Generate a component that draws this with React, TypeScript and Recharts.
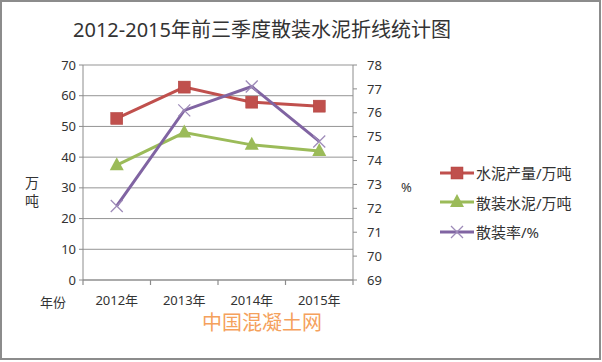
import React from 'react';
import { LineChart, Line, XAxis, YAxis, CartesianGrid, Legend } from 'recharts';

const categories = ['2012年', '2013年', '2014年', '2015年'];
const cementOutput = [52.6, 62.8, 57.9, 56.6];
const bulkCement = [37.4, 48.0, 44.0, 42.0];
const bulkRate = [72.1, 76.1, 77.1, 74.8];
const leftTicks = [0, 10, 20, 30, 40, 50, 60, 70];
const rightTicks = [69, 70, 71, 72, 73, 74, 75, 76, 77, 78];

const seriesNames = ['水泥产量/万吨', '散装水泥/万吨', '散装率/%'];
const colors = ['#C0504D', '#9BBB59', '#8064A2'];

const data = categories.map((c, i) => ({
  name: c,
  output: cementOutput[i],
  bulk: bulkCement[i],
  rate: bulkRate[i],
}));

const CHART_W = 602;
const CHART_H = 362;
const LEFT_W = 83;
const RIGHT_AXIS_W = 40;
const RIGHT_MARGIN = 209;
const PLOT_W = CHART_W - LEFT_W - RIGHT_AXIS_W - RIGHT_MARGIN;

const FONT = "'Noto Sans', 'Noto Sans CJK SC', sans-serif";
const TEXT = '#333333';

const Square = (props: any) => {
  const { cx, cy } = props;
  if (cx == null || cy == null) return null;
  return <rect key={`s${cx}`} x={cx - 6} y={cy - 6} width={12} height={12} fill={colors[0]} stroke="#b0403d" strokeWidth={0.5} />;
};
const Triangle = (props: any) => {
  const { cx, cy } = props;
  if (cx == null || cy == null) return null;
  return <polygon key={`t${cx}`} points={`${cx},${cy - 8} ${cx - 7},${cy + 5} ${cx + 7},${cy + 5}`} fill={colors[1]} />;
};
const Cross = (props: any) => {
  const { cx, cy } = props;
  if (cx == null || cy == null) return null;
  return (
    <g key={`x${cx}`}>
      <line x1={cx - 6} y1={cy - 6} x2={cx + 6} y2={cy + 6} stroke="#9d8ab8" strokeWidth={1.3} />
      <line x1={cx - 6} y1={cy + 6} x2={cx + 6} y2={cy - 6} stroke="#9d8ab8" strokeWidth={1.3} />
    </g>
  );
};
const markers = [Square, Triangle, Cross];

const XTick = (props: any) => {
  const { x, y, payload, index } = props;
  const n = categories.length;
  const off = PLOT_W / n / 2;
  return (
    <g>
      <line x1={x - off} y1={y} x2={x - off} y2={y + 5} stroke="#8c8c8c" strokeWidth={1.2} />
      {index === n - 1 && (
        <line x1={x + off} y1={y} x2={x + off} y2={y + 5} stroke="#8c8c8c" strokeWidth={1.2} />
      )}
      <text x={x} y={y + 25} textAnchor="middle" fontSize={13} fill={TEXT} fontFamily={FONT}>
        {payload.value}
      </text>
    </g>
  );
};

const LegendContent = () => (
  <div style={{ fontFamily: FONT, fontSize: 15, color: TEXT }}>
    {seriesNames.map((n, i) => {
      const M = markers[i];
      return (
        <div key={n} style={{ display: 'flex', alignItems: 'center', height: 29.5 }}>
          <svg width={36} height={16}>
            <line x1={1} y1={8} x2={35} y2={8} stroke={colors[i]} strokeWidth={3} />
            <M cx={18} cy={8} />
          </svg>
          <span style={{ marginLeft: 1 }}>{n}</span>
        </div>
      );
    })}
  </div>
);

export default function App() {
  return (
    <div style={{ position: 'absolute', left: 0, top: 0, width: CHART_W, height: CHART_H, background: '#fff' }}>
      <div
        style={{
          position: 'absolute', left: 0, top: 0, width: 601, height: 360,
          boxSizing: 'border-box', border: '2px solid #8c8c8c',
        }}
      />
      <div
        style={{
          position: 'absolute', left: 62, top: 16, width: 400, textAlign: 'center',
          fontFamily: FONT, fontSize: 20, color: TEXT, lineHeight: '28px',
        }}
      >
        2012-2015年前三季度散装水泥折线统计图
      </div>
      <LineChart
        width={CHART_W}
        height={CHART_H}
        data={data}
        margin={{ top: 65, right: RIGHT_MARGIN, bottom: 52, left: 0 }}
        style={{ position: 'absolute', left: 0, top: 0 }}
      >
        <CartesianGrid vertical={false} stroke="#959595" yAxisId="left" />
        <XAxis
          dataKey="name"
          scale="band"
          height={30}
          tick={<XTick />}
          tickLine={false}
          tickSize={0}
          tickMargin={0}
          axisLine={{ stroke: '#8c8c8c' }}
          interval={0}
        />
        <YAxis
          yAxisId="left"
          width={LEFT_W}
          domain={[0, 70]}
          ticks={leftTicks}
          interval={0}
          tickSize={4}
          tickMargin={3}
          axisLine={{ stroke: '#8c8c8c' }}
          tickLine={{ stroke: '#8c8c8c' }}
          tick={{ fontSize: 13, fill: TEXT, fontFamily: FONT }}
        />
        <YAxis
          yAxisId="right"
          orientation="right"
          width={RIGHT_AXIS_W}
          domain={[69, 78]}
          ticks={rightTicks}
          interval={0}
          tickSize={4}
          tickMargin={10}
          axisLine={{ stroke: '#8c8c8c' }}
          tickLine={{ stroke: '#8c8c8c' }}
          tick={{ fontSize: 13, fill: TEXT, fontFamily: FONT }}
        />
        <Legend
          layout="horizontal"
          verticalAlign="middle"
          align="center"
          content={<LegendContent />}
          wrapperStyle={{ left: 439, top: 158, width: 160 }}
        />
        <Line yAxisId="left" dataKey="output" name={seriesNames[0]} stroke={colors[0]} strokeWidth={3} dot={<Square />} activeDot={false} isAnimationActive={false} />
        <Line yAxisId="left" dataKey="bulk" name={seriesNames[1]} stroke={colors[1]} strokeWidth={3} dot={<Triangle />} activeDot={false} isAnimationActive={false} />
        <Line yAxisId="right" dataKey="rate" name={seriesNames[2]} stroke={colors[2]} strokeWidth={3} dot={<Cross />} activeDot={false} isAnimationActive={false} />
      </LineChart>
      <div style={{ position: 'absolute', left: 25, top: 174, width: 14, fontFamily: FONT, fontSize: 14, color: TEXT, lineHeight: '18px' }}>
        <div>万</div>
        <div>吨</div>
      </div>
      <div style={{ position: 'absolute', left: 401, top: 178, fontFamily: FONT, fontSize: 13, color: TEXT }}>%</div>
      <div style={{ position: 'absolute', left: 40, top: 292, fontFamily: FONT, fontSize: 13, color: TEXT }}>年份</div>
      <div style={{ position: 'absolute', left: 202, top: 313, fontFamily: FONT, fontSize: 20, color: '#f5a15c', lineHeight: '20px' }}>
        中国混凝土网
      </div>
    </div>
  );
}
